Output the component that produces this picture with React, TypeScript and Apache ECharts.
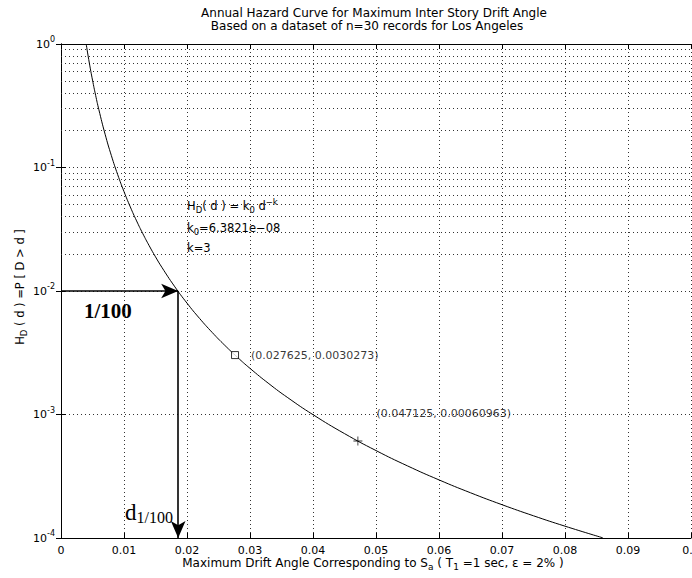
import React, { useEffect, useRef } from 'react';
import * as echarts from 'echarts';

// Hazard curve H_D(d) sampled along the drift-angle axis
const driftAngle = [
  0.004, 0.0045, 0.005, 0.0055, 0.006, 0.007, 0.008, 0.009, 0.01, 0.011, 0.012,
  0.013, 0.014, 0.015, 0.016, 0.018, 0.02, 0.022, 0.024, 0.026, 0.028, 0.03,
  0.033, 0.036, 0.04, 0.045, 0.05, 0.055, 0.06, 0.065, 0.07, 0.075, 0.08, 0.086,
];
const hazard = [
  0.9972, 0.70037, 0.51057, 0.38359, 0.29547, 0.18607, 0.12465, 0.087546,
  0.063821, 0.04795, 0.036933, 0.029049, 0.023258, 0.01891, 0.015581, 0.010943,
  0.0079776, 0.0059937, 0.0046167, 0.0036311, 0.0029073, 0.0023637, 0.0017759,
  0.0013679, 0.0009972, 0.00070037, 0.00051057, 0.00038359, 0.00029547,
  0.00023239, 0.00018607, 0.00015128, 0.00012465, 0.00010034,
];

// Highlighted points on the curve
const squarePoint = [0.027625, 0.0030273];
const plusPoint = [0.047125, 0.00060963];

// 1/100 annual exceedance and the corresponding drift d_1/100
const targetHazard = 0.01;
const targetDrift = 0.0186;

// Axis ranges and ticks
const xMin = 0;
const xMax = 0.1;
const xStep = 0.01;
const yMin = 1e-4;
const yMax = 1;
const yDecades = [-4, -3, -2, -1];
const minorMultipliers = [2, 3, 4, 5, 6, 7, 8, 9];

const SANS = 'DejaVu Sans';
const SERIF = 'Liberation Serif';

const dotted = { color: '#333', width: 1, type: [1, 3] as number[] };

export default function App() {
  const ref = useRef<HTMLDivElement>(null);

  useEffect(() => {
    const chart = echarts.init(ref.current!, null, { renderer: 'svg' });

    const minorGrid: { yAxis: number }[] = [];
    for (const e of yDecades) {
      for (const m of minorMultipliers) minorGrid.push({ yAxis: m * Math.pow(10, e) });
    }

    const curve = driftAngle.map((d, i) => [d, hazard[i]]);

    const supRich = {
      base: { fontFamily: SANS, fontSize: 11, color: '#000' },
      sup: { fontFamily: SANS, fontSize: 8, color: '#000', padding: [0, 0, 9, 0] },
    };
    const textRich = (size: number) => ({
      base: { fontFamily: SANS, fontSize: size, color: '#000' },
      sub: { fontFamily: SANS, fontSize: size - 3, color: '#000', padding: [8, 0, 0, 0] },
      sup: { fontFamily: SANS, fontSize: size - 3, color: '#000', padding: [0, 0, 9, 0] },
    });

    const xAxisBase = {
      type: 'value' as const,
      min: xMin,
      max: xMax,
      interval: xStep,
      axisLine: { show: true, lineStyle: { color: '#000', width: 1 } },
      axisTick: { show: true, inside: true, length: 5, lineStyle: { color: '#000' } },
    };
    const yAxisBase = {
      type: 'log' as const,
      logBase: 10,
      min: yMin,
      max: yMax,
      axisLine: { show: true, lineStyle: { color: '#000', width: 1 } },
      axisTick: { show: true, inside: true, length: 5, lineStyle: { color: '#000' } },
    };

    chart.setOption({
      animation: false,
      backgroundColor: '#fff',
      grid: {
        left: 61,
        right: 1,
        top: 44,
        bottom: 40,
        containLabel: false,
        outerBoundsMode: 'none',
      },
      xAxis: [
        {
          ...xAxisBase,
          position: 'bottom',
          axisLabel: {
            margin: 7,
            fontFamily: SANS,
            fontSize: 11,
            color: '#000',
            showMaxLabel: true,
            alignMaxLabel: 'center',
            formatter: (v: number) => (v === 0 ? '0' : String(+v.toFixed(2))),
          },
          splitLine: { show: true, lineStyle: dotted },
        },
        {
          ...xAxisBase,
          position: 'top',
          axisLabel: { show: false },
          splitLine: { show: false },
        },
      ],
      yAxis: [
        {
          ...yAxisBase,
          position: 'left',
          axisLabel: {
            margin: 6,
            formatter: (v: number) => `{base|10}{sup|${Math.round(Math.log10(v))}}`,
            rich: supRich,
          },
          splitLine: { show: true, lineStyle: dotted },
        },
        {
          ...yAxisBase,
          position: 'right',
          axisLabel: { show: false },
          splitLine: { show: false },
        },
      ],
      series: [
        {
          type: 'line',
          data: curve,
          showSymbol: false,
          smooth: true,
          lineStyle: { color: '#000', width: 1 },
          silent: true,
          z: 3,
          markLine: {
            silent: true,
            symbol: ['none', 'none'],
            label: { show: false },
            lineStyle: dotted,
            data: minorGrid,
            z: 1,
          },
        },
        {
          type: 'line',
          data: [],
          silent: true,
          z: 4,
          markLine: {
            silent: true,
            symbol: ['none', 'arrow'],
            symbolSize: [11, 17],
            label: { show: false },
            lineStyle: { color: '#000', width: 1.6, type: 'solid' },
            itemStyle: { color: '#000' },
            data: [
              [{ coord: [xMin, targetHazard] }, { coord: [targetDrift, targetHazard] }],
              [{ coord: [targetDrift, targetHazard] }, { coord: [targetDrift, yMin] }],
            ],
          },
        },
        {
          type: 'scatter',
          data: [squarePoint],
          symbol: 'rect',
          symbolSize: 7,
          itemStyle: { color: '#fff', borderColor: '#000', borderWidth: 1 },
          label: {
            show: true,
            position: 'right',
            distance: 12,
            fontFamily: SANS,
            fontSize: 11,
            color: '#000',
            formatter: (p: any) => `(${p.value[0]}, ${p.value[1]})`,
          },
          z: 5,
        },
        {
          type: 'scatter',
          data: [plusPoint],
          symbol: 'path://M4.5,0h1v4.5h4.5v1h-4.5v4.5h-1v-4.5h-4.5v-1h4.5z',
          symbolSize: 9,
          itemStyle: { color: '#000' },
          label: {
            show: true,
            position: [23, -23],
            align: 'left',
            verticalAlign: 'middle',
            fontFamily: SANS,
            fontSize: 11,
            color: '#000',
            formatter: (p: any) => `(${p.value[0]}, ${p.value[1]})`,
          },
          z: 5,
        },
      ],
      graphic: [
        {
          type: 'text',
          x: 374,
          y: 13,
          style: {
            text: 'Annual Hazard Curve for Maximum Inter Story Drift Angle',
            font: `12px "${SANS}"`,
            fill: '#000',
            align: 'center',
            verticalAlign: 'middle',
          },
        },
        {
          type: 'text',
          x: 367,
          y: 26,
          style: {
            text: 'Based on a dataset of n=30 records for Los Angeles',
            font: `12px "${SANS}"`,
            fill: '#000',
            align: 'center',
            verticalAlign: 'middle',
          },
        },
        {
          type: 'text',
          x: 373,
          y: 563,
          style: {
            text: '{base|Maximum Drift Angle Corresponding to S}{sub|a}{base| ( T}{sub|1}{base| =1 sec, ε = 2% )}',
            rich: textRich(12),
            align: 'center',
            verticalAlign: 'middle',
          },
        },
        {
          type: 'text',
          x: 20,
          y: 287,
          rotation: Math.PI / 2,
          style: {
            text: '{base|H}{sub|D}{base| ( d ) =P [ D > d ]}',
            rich: textRich(11.5),
            align: 'center',
            verticalAlign: 'middle',
          },
        },
        {
          type: 'text',
          x: 187,
          y: 206,
          style: {
            text: '{base|H}{sub|D}{base|( d ) = k}{sub|0}{base| d}{sup|−k}',
            rich: textRich(11.5),
            align: 'left',
            verticalAlign: 'middle',
          },
        },
        {
          type: 'text',
          x: 187,
          y: 228,
          style: {
            text: '{base|k}{sub|0}{base|=6.3821e−08}',
            rich: textRich(11.5),
            align: 'left',
            verticalAlign: 'middle',
          },
        },
        {
          type: 'text',
          x: 187,
          y: 248,
          style: {
            text: 'k=3',
            font: `11.5px "${SANS}"`,
            fill: '#000',
            align: 'left',
            verticalAlign: 'middle',
          },
        },
        {
          type: 'text',
          x: 84,
          y: 311,
          style: {
            text: '1/100',
            font: `bold 21px "${SERIF}"`,
            fill: '#000',
            align: 'left',
            verticalAlign: 'middle',
          },
        },
        {
          type: 'text',
          x: 125,
          y: 512,
          style: {
            text: '{d|d}{s|1/100}',
            rich: {
              d: { fontFamily: SERIF, fontSize: 23, color: '#000' },
              s: { fontFamily: SERIF, fontSize: 16, color: '#000', padding: [10, 0, 0, 0] },
            },
            align: 'left',
            verticalAlign: 'middle',
          },
        },
      ],
    });

    return () => chart.dispose();
  }, []);

  return (
    <div
      ref={ref}
      style={{ position: 'fixed', left: 0, top: 0, width: 692, height: 578, background: '#fff' }}
    />
  );
}
